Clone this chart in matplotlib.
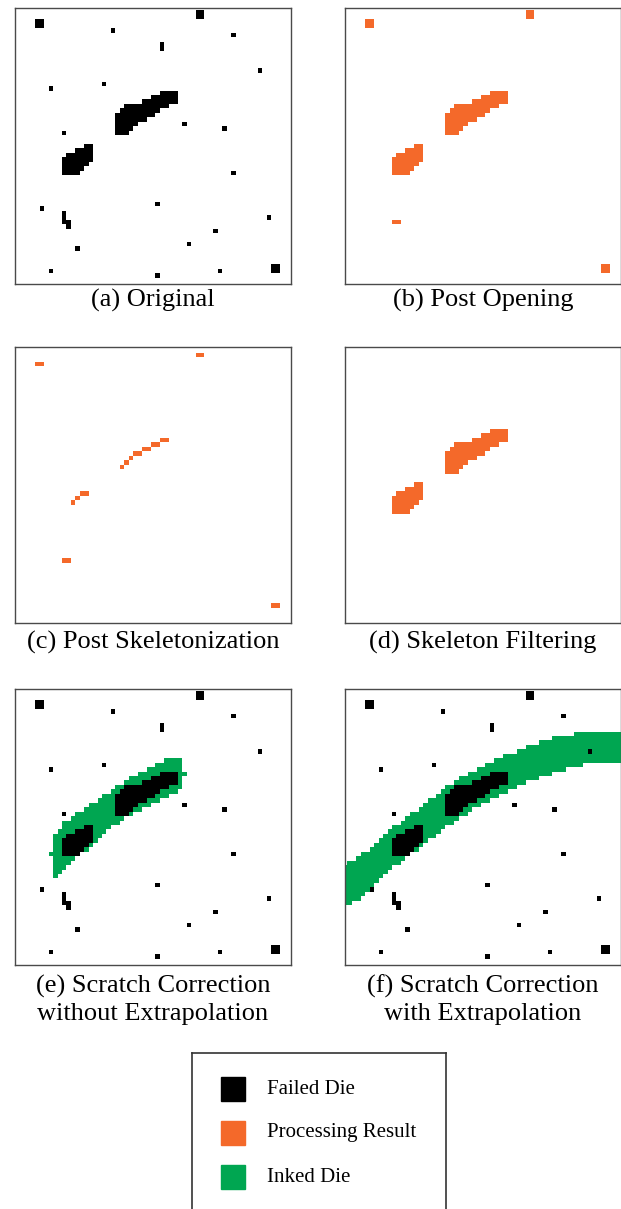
import numpy as np
import matplotlib.pyplot as plt
from matplotlib.colors import to_rgb
from matplotlib.patches import Rectangle

W, H = 621, 1209
N = 63  # cells per wafer side

BLACK = '#000000'
ORANGE = '#f4692a'
GREEN = '#00a651'

# ---- failed dies: (row, col) ----
single_dies = [(5, 22), (6, 49), (14, 55), (17, 20), (18, 8), (26, 38), (27, 47),
               (28, 11), (37, 49), (44, 32), (45, 6), (47, 57), (50, 45), (53, 39),
               (54, 14), (59, 8), (59, 46), (60, 32)]
block_dies = [(1, 41), (3, 5), (58, 58)]          # top-left of 2x2 clusters
pair_dies = [(8, 33), (9, 33)]
hook_dies = [(46, 11), (47, 11), (48, 11), (48, 12), (49, 12)]

# scratch segments: (row, first col, last col)
scratch_low = [(31, 16, 17), (32, 14, 17), (33, 12, 17), (34, 11, 17),
               (35, 11, 16), (36, 11, 15), (37, 11, 14)]
scratch_up = [(19, 33, 36), (20, 31, 36), (21, 29, 36), (22, 25, 34), (23, 24, 32),
              (24, 23, 31), (25, 23, 29), (26, 23, 27), (27, 23, 26), (28, 23, 25)]
hook_opened = [(48, 11, 12)]

skeleton_cells = [(2, 41), (2, 42), (4, 5), (4, 6), (48, 11), (48, 12), (58, 58), (58, 59),
                  (35, 13), (34, 14), (33, 15), (33, 16),
                  (27, 24), (26, 25), (25, 26), (24, 27), (24, 28), (23, 29), (23, 30),
                  (22, 31), (22, 32), (21, 33), (21, 34)]

# inked band without extrapolation: per column first/last row
band_e_cols = list(range(9, 38))
band_e_top = [33, 32, 30, 30, 29, 28, 28, 27, 26, 26, 25, 24, 24, 23, 22, 22, 21, 20, 20, 19,
              19, 18, 18, 17, 17, 16, 16, 16, 16]
band_e_bot = [42, 41, 40, 39, 38, 37, 36, 36, 35, 34, 33, 32, 31, 30, 30, 29, 28, 28, 27, 27,
              26, 26, 25, 25, 24, 24, 23, 23, 22]
band_e_extra = [(37, 8), (19, 38)]

# inked band with extrapolation
band_f_cols = list(range(0, 63))
band_f_top = [40, 39, 39, 38, 37, 37, 36, 35, 34, 33, 32, 31, 31, 30, 29, 28, 28, 27, 26, 25,
              25, 24, 23, 22, 22, 21, 20, 20, 19, 19, 18, 18, 17, 17, 16, 16, 15, 15, 15, 14,
              14, 13, 13, 13, 12, 12, 12, 11, 11, 11, 11, 11] + [10] * 11
band_f_bot = [48, 48, 47, 47, 46, 45, 44, 43, 42, 41, 40, 39, 39, 38, 37, 36, 36, 35, 34, 33,
              33, 32, 31, 30, 30, 29, 28, 28, 27, 26, 26, 25, 25, 24, 24, 23, 23, 22, 22, 21,
              21, 20, 20, 20, 19, 19, 19, 18, 18, 18, 17, 17, 17, 17] + [16] * 9

captions = ['(a) Original', '(b) Post Opening', '(c) Post Skeletonization',
            '(d) Skeleton Filtering', '(e) Scratch Correction\nwithout Extrapolation',
            '(f) Scratch Correction\nwith Extrapolation']
legend_labels = ['Failed Die', 'Processing Result', 'Inked Die']
legend_colors = [BLACK, ORANGE, GREEN]


def cells_grid(cells):
    g = np.zeros((N, N), bool)
    for r, c in cells:
        g[r, c] = True
    return g


def runs_grid(runs):
    g = np.zeros((N, N), bool)
    for r, c0, c1 in runs:
        g[r, c0:c1 + 1] = True
    return g


def band_grid(cols, tops, bots):
    g = np.zeros((N, N), bool)
    for c, t, b in zip(cols, tops, bots):
        g[t:b + 1, c] = True
    return g


blocks = [(r + i, c + j) for r, c in block_dies for i in (0, 1) for j in (0, 1)]
scratch = runs_grid(scratch_low) | runs_grid(scratch_up)
failed = cells_grid(single_dies + blocks + pair_dies + hook_dies) | scratch
opened = cells_grid(blocks) | runs_grid(hook_opened) | scratch
skeleton = cells_grid(skeleton_cells)
inked_e = band_grid(band_e_cols, band_e_top, band_e_bot) | cells_grid(band_e_extra)
inked_f = band_grid(band_f_cols, band_f_top, band_f_bot)

layers = [[(failed, BLACK)], [(opened, ORANGE)], [(skeleton, ORANGE)], [(scratch, ORANGE)],
          [(inked_e, GREEN), (failed, BLACK)], [(inked_f, GREEN), (failed, BLACK)]]

fig = plt.figure(figsize=(W / 100, H / 100), dpi=100)
serif = ['Liberation Serif', 'DejaVu Serif']

lefts = [15, 345]
tops = [8, 347, 689]
cap_y = [300, 642, 1000]
size = 276

for k, (cap, lay) in enumerate(zip(captions, layers)):
    x0 = lefts[k % 2]
    y0 = tops[k // 2]
    ax = fig.add_axes([x0 / W, 1 - (y0 + size) / H, size / W, size / H])
    img = np.ones((N, N, 3))
    for mask, col in lay:
        img[mask] = to_rgb(col)
    ax.imshow(img, extent=(0, N, N, 0), interpolation='nearest', aspect='auto')
    ax.set_xlim(0.45, 62.45)
    ax.set_ylim(62.45, 0.45)
    ax.set_xticks([])
    ax.set_yticks([])
    for sp in ax.spines.values():
        sp.set_color('#4a4a4a')
        sp.set_linewidth(1.0)
    fig.text((x0 + size / 2) / W, 1 - cap_y[k // 2] / H, cap, ha='center', va='center',
             family=serif, fontsize=19, linespacing=1.3)

# legend box (bottom edge runs past the canvas)
lax = fig.add_axes([192 / W, 1 - 1222 / H, 254 / W, 169 / H])
lax.set_xlim(192, 446)
lax.set_ylim(1222, 1053)
lax.set_xticks([])
lax.set_yticks([])
for sp in lax.spines.values():
    sp.set_color('#333333')
    sp.set_linewidth(1.2)
for i, (lab, col) in enumerate(zip(legend_labels, legend_colors)):
    yc = 1089 + 44 * i
    lax.add_patch(Rectangle((221, yc - 12), 24, 24, color=col))
    lax.text(267, yc, lab, ha='left', va='center', family=serif, fontsize=15)

fig.savefig('out.png', dpi=100)
